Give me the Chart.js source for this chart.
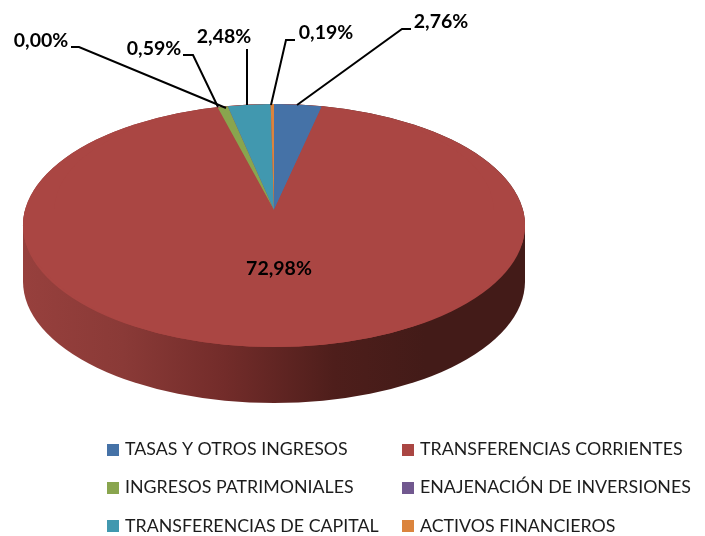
<!DOCTYPE html>
<html>
<head>
<meta charset="utf-8">
<style>html,body{margin:0;padding:0;background:#fff}canvas{display:block}</style>
<script src="https://cdn.jsdelivr.net/npm/chart.js@4"></script>
</head>
<body>
<canvas id="c" width="705" height="536"></canvas>
<script>
const categories = ["TASAS Y OTROS INGRESOS","TRANSFERENCIAS CORRIENTES","INGRESOS PATRIMONIALES","ENAJENACIÓN DE INVERSIONES","TRANSFERENCIAS DE CAPITAL","ACTIVOS FINANCIEROS"];
const values = [2.76,72.98,0.59,0.00,2.48,0.19];
const valueLabels = ["2,76%","72,98%","0,59%","0,00%","2,48%","0,19%"];
const colors = ["#4572A7","#AA4643","#89A54E","#71588F","#4198AF","#DB843D"];
const labelSpots = [[441,22],[279,269],[154,49],[41,41],[224,37],[326,33]];
const leaders = [
  [[297,105],[402,29],[411,29]],
  null,
  [[218,107],[193,55],[183,55]],
  [[226,108],[79,47],[71,47]],
  [[247,105],[247,49]],
  [[271,105],[286,40],[295,40]]
];
const legendCols = [107,402];
const legendRows = [449.5,487.5,526];
const FONT = 'Lato, "Open Sans", sans-serif';

const ELL = {x:274,y:225.5,rx:251,ry:121.5,depth:56};
const APEX_Y = 210, TOP_H = 105, BOT_H = 137;

const pie3d = {
  id:'pie3d',
  beforeDatasetDraw(chart,args){
    const ctx = chart.ctx, meta = args.meta, a = meta.data[0];
    const R = a.outerRadius, cx = a.x, cy = a.y;
    // side wall, running under the whole top face so no seam shows
    ctx.save();
    const g = ctx.createLinearGradient(ELL.x-ELL.rx,0,ELL.x+ELL.rx,0);
    g.addColorStop(0,'#97403D');
    g.addColorStop(0.2,'#8A3A37');
    g.addColorStop(0.4,'#732C2A');
    g.addColorStop(0.62,'#4E1E1B');
    g.addColorStop(0.8,'#431B18');
    g.addColorStop(1,'#431B18');
    ctx.fillStyle = g;
    ctx.beginPath();
    ctx.ellipse(ELL.x,ELL.y,ELL.rx,ELL.ry,0,Math.PI,0,false);
    ctx.ellipse(ELL.x,ELL.y+ELL.depth,ELL.rx,ELL.ry,0,0,Math.PI,false);
    ctx.closePath();
    ctx.fill();
    ctx.restore();
    // top face: library arcs, flattened, clipped to the ellipse
    ctx.save();
    ctx.beginPath();
    ctx.ellipse(ELL.x,ELL.y,ELL.rx,ELL.ry,0,0,Math.PI*2);
    ctx.fillStyle = colors[1];
    ctx.fill();
    ctx.clip();
    const parts = [[0,APEX_Y,0.875,(APEX_Y-TOP_H)/R*1.01],[APEX_Y,536-APEX_Y,1.02,(BOT_H+2)/R]];
    for(const [y,h,sx,sy] of parts){
      ctx.save();
      ctx.beginPath();
      ctx.rect(0,y,705,h);
      ctx.clip();
      ctx.translate(ELL.x,APEX_Y);
      ctx.scale(sx,sy);
      ctx.translate(-cx,-cy);
      meta.controller.draw();
      ctx.restore();
    }
    ctx.restore();
    return false;
  },
  afterDatasetsDraw(chart){
    const ctx = chart.ctx;
    ctx.save();
    ctx.strokeStyle='#000';
    ctx.lineWidth=2;
    leaders.forEach(l=>{
      if(!l) return;
      ctx.beginPath();
      l.forEach((p,i)=> i?ctx.lineTo(p[0],p[1]):ctx.moveTo(p[0],p[1]));
      ctx.stroke();
    });
    ctx.fillStyle='#000';
    ctx.font='bold 19.5px '+FONT;
    ctx.textAlign='center';
    ctx.textBaseline='middle';
    valueLabels.forEach((t,i)=>ctx.fillText(t,labelSpots[i][0],labelSpots[i][1]));
    ctx.font='17.8px '+FONT;
    ctx.textAlign='left';
    categories.forEach((t,i)=>{
      const x=legendCols[i%2], y=legendRows[Math.floor(i/2)];
      ctx.fillStyle=colors[i];
      ctx.fillRect(x,Math.round(y-6),12,12);
      ctx.fillStyle='#1c1c1c';
      ctx.fillText(t,x+18,y);
    });
    ctx.restore();
  }
};

new Chart(document.getElementById('c'),{
  type:'pie',
  data:{labels:categories,datasets:[{data:values,backgroundColor:colors,borderWidth:0}]},
  options:{
    responsive:false,
    animation:false,
    layout:{padding:{left:23,right:180,top:17,bottom:17}},
    plugins:{legend:{display:false},tooltip:{enabled:false}}
  },
  plugins:[pie3d]
});
</script>
</body>
</html>
